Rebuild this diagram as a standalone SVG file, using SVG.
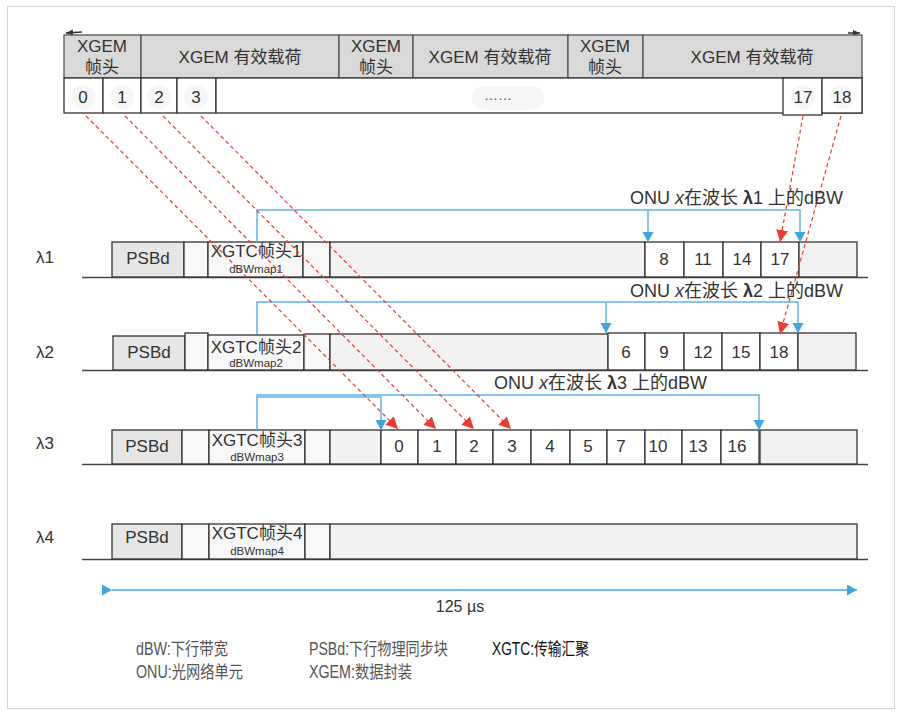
<svg xmlns="http://www.w3.org/2000/svg" width="901" height="714" viewBox="0 0 901 714">
<style>
text{font-family:"Liberation Sans","Noto Sans CJK SC",sans-serif;fill:#333}
.hd{fill:#d9d9d9;stroke:#555;stroke-width:1.3}
.c{fill:#fff;stroke:#333;stroke-width:1.3}
.g{fill:#f2f2f2;stroke:#333;stroke-width:1.3}
.p{fill:#e6e6e6;stroke:#333;stroke-width:1.3}
.s{fill:#f7f7f7;stroke:#333;stroke-width:1.3}
.bg{fill:#f6f6f6}
.t17{font-size:17px;text-anchor:middle}
.xh{font-size:17px;text-anchor:middle}
.sm{font-size:11.5px;text-anchor:middle}
.base{stroke:#444;stroke-width:1.3;fill:none}
.blue{stroke:#5fb4e6;stroke-width:1.5;fill:none}
.red{stroke:#ec3b30;stroke-width:1.2;stroke-dasharray:4 3;fill:none}
.lab{font-size:18px}
.leg{font-size:17.5px;fill:#555}
</style>
<defs>
<marker id="ab" markerUnits="userSpaceOnUse" markerWidth="12" markerHeight="12" refX="10" refY="5.5" orient="auto"><path d="M0,0 L10,5.5 L0,11 z" fill="#3ea6e2"/></marker>
<marker id="ar" markerUnits="userSpaceOnUse" markerWidth="13" markerHeight="13" refX="12" refY="6" orient="auto"><path d="M0,0 L12,6 L0,12 z" fill="#ec3b30"/></marker>
<marker id="ak" markerUnits="userSpaceOnUse" markerWidth="8" markerHeight="8" refX="7" refY="3" orient="auto"><path d="M0,0 L7,3 L0,6 z" fill="#333"/></marker>
</defs>
<rect x="0" y="0" width="901" height="714" fill="#fff"/>
<rect x="7.5" y="6.5" width="887" height="702" fill="#fff" stroke="#d4d4d4" stroke-width="1"/>

<g id="topbar">
<path d="M82,32 L66,33" stroke="#333" stroke-width="1.5" fill="none" marker-end="url(#ak)"/>
<path d="M848,33 L860,33" stroke="#333" stroke-width="1.5" fill="none" marker-end="url(#ak)"/>
<rect class="hd" x="64" y="35" width="77" height="43"/>
<rect class="hd" x="141" y="35" width="198" height="43"/>
<rect class="hd" x="339" y="35" width="74" height="43"/>
<rect class="hd" x="413" y="35" width="155" height="43"/>
<rect class="hd" x="568" y="35" width="75" height="43"/>
<rect class="hd" x="643" y="35" width="219" height="43"/>
<text class="t17" x="102" y="52">XGEM</text><text class="t17" x="102" y="73">帧头</text>
<text class="t17" x="240" y="63">XGEM 有效载荷</text>
<text class="t17" x="376" y="52">XGEM</text><text class="t17" x="376" y="73">帧头</text>
<text class="t17" x="490" y="63">XGEM 有效载荷</text>
<text class="t17" x="605" y="52">XGEM</text><text class="t17" x="605" y="73">帧头</text>
<text class="t17" x="752" y="63">XGEM 有效载荷</text>
<rect class="c" x="64" y="78" width="39" height="35"/>
<rect class="c" x="103" y="78" width="38" height="35"/>
<rect class="c" x="141" y="78" width="36" height="35"/>
<rect class="c" x="177" y="78" width="39" height="35"/>
<rect class="c" x="216" y="78" width="646" height="35"/>
<rect class="c" x="783" y="78" width="39" height="37"/>
<rect class="c" x="822" y="78" width="40" height="35"/>
<rect class="bg" x="472" y="86" width="72" height="24" rx="12"/>
<text x="498" y="100" style="font-size:14px;text-anchor:middle;fill:#555">……</text>
<g class="bg"><circle cx="83" cy="97" r="12"/><circle cx="122" cy="97" r="12"/><circle cx="159" cy="97" r="12"/><circle cx="196" cy="97" r="12"/><circle cx="803" cy="97" r="12"/><circle cx="842" cy="97" r="12"/></g>
<text class="t17" x="83" y="103">0</text><text class="t17" x="122" y="103">1</text><text class="t17" x="159" y="103">2</text><text class="t17" x="196" y="103">3</text>
<text class="t17" x="803" y="103">17</text><text class="t17" x="842" y="103">18</text>
</g>

<g id="row1">
<text x="36" y="263" style="font-size:17px">λ1</text>
<line class="base" x1="82" y1="277.5" x2="868" y2="277.5"/>
<rect class="p" x="112" y="242" width="72" height="35"/>
<rect class="s" x="184" y="242" width="24" height="35"/>
<rect class="s" x="208" y="242" width="95" height="35"/>
<rect class="s" x="303" y="242" width="27" height="35"/>
<rect class="g" x="330" y="242" width="315" height="35"/>
<rect class="c" x="645" y="242" width="39" height="35"/>
<rect class="c" x="684" y="242" width="39" height="35"/>
<rect class="c" x="723" y="242" width="38" height="35"/>
<rect class="c" x="761" y="242" width="38" height="35"/>
<rect class="g" x="799" y="242" width="58" height="35"/>
<text class="t17" x="148" y="264">PSBd</text>
<text class="xh" x="256" y="257">XGTC帧头1</text>
<text class="sm" x="256" y="273">dBWmap1</text>
<text class="t17" x="664" y="265">8</text><text class="t17" x="703" y="265">11</text><text class="t17" x="742" y="265">14</text><text class="t17" x="780" y="265">17</text>
</g>

<g id="row2">
<text x="36" y="358" style="font-size:17px">λ2</text>
<line class="base" x1="82" y1="370.5" x2="868" y2="370.5"/>
<rect class="p" x="113" y="336" width="72" height="34"/>
<rect class="s" x="185" y="333" width="23" height="37"/>
<rect class="s" x="208" y="335" width="96" height="35"/>
<rect class="s" x="304" y="334" width="26" height="36"/>
<rect class="g" x="330" y="334" width="278" height="36"/>
<rect class="c" x="608" y="333" width="37" height="37"/>
<rect class="c" x="645" y="333" width="39" height="37"/>
<rect class="c" x="684" y="333" width="38" height="37"/>
<rect class="c" x="722" y="333" width="38" height="37"/>
<rect class="c" x="760" y="333" width="38" height="37"/>
<rect class="g" x="798" y="333" width="58" height="37"/>
<text class="t17" x="149" y="358">PSBd</text>
<text class="xh" x="256" y="353">XGTC帧头2</text>
<text class="sm" x="256" y="367">dBWmap2</text>
<text class="t17" x="626" y="358">6</text><text class="t17" x="664" y="358">9</text><text class="t17" x="703" y="358">12</text><text class="t17" x="741" y="358">15</text><text class="t17" x="779" y="358">18</text>
</g>

<g id="row3">
<text x="36" y="449" style="font-size:17px">λ3</text>
<line class="base" x1="82" y1="464.5" x2="868" y2="464.5"/>
<rect class="p" x="112" y="430" width="70" height="34"/>
<rect class="s" x="182" y="430" width="27" height="34"/>
<rect class="s" x="209" y="430" width="96" height="34"/>
<rect class="s" x="305" y="430" width="25" height="34"/>
<rect class="g" x="330" y="430" width="51" height="34"/>
<rect class="c" x="381" y="430" width="37" height="34"/>
<rect class="c" x="418" y="430" width="38" height="34"/>
<rect class="c" x="456" y="430" width="37" height="34"/>
<rect class="c" x="493" y="430" width="38" height="34"/>
<rect class="c" x="531" y="430" width="39" height="34"/>
<rect class="c" x="570" y="430" width="37" height="34"/>
<rect class="c" x="607" y="430" width="38" height="34"/>
<rect class="c" x="645" y="430" width="37" height="34"/>
<rect class="c" x="682" y="430" width="39" height="34"/>
<rect class="c" x="721" y="430" width="38" height="34"/>
<rect class="g" x="760" y="430" width="97" height="34"/>
<text class="t17" x="147" y="452">PSBd</text>
<text class="xh" x="257" y="446">XGTC帧头3</text>
<text class="sm" x="257" y="461">dBWmap3</text>
<text class="t17" x="399" y="452">0</text><text class="t17" x="437" y="452">1</text><text class="t17" x="474" y="452">2</text><text class="t17" x="512" y="452">3</text><text class="t17" x="550" y="452">4</text><text class="t17" x="588" y="452">5</text><text class="t17" x="621" y="452">7</text><text class="t17" x="658" y="452">10</text><text class="t17" x="698" y="452">13</text><text class="t17" x="737" y="452">16</text>
</g>

<g id="row4">
<text x="36" y="543" style="font-size:17px">λ4</text>
<line class="base" x1="82" y1="559.5" x2="868" y2="559.5"/>
<rect class="p" x="112" y="524" width="70" height="35"/>
<rect class="s" x="182" y="524" width="27" height="35"/>
<rect class="s" x="209" y="524" width="96" height="35"/>
<rect class="s" x="305" y="524" width="25" height="35"/>
<rect class="g" x="330" y="524" width="527" height="35"/>
<text class="t17" x="147" y="543">PSBd</text>
<text class="xh" x="257" y="539">XGTC帧头4</text>
<text class="sm" x="257" y="555">dBWmap4</text>
</g>

<g id="connectors">
<path class="blue" d="M257,242 V210 H800 V242" marker-end="url(#ab)"/>
<path class="blue" d="M648,210 V242" marker-end="url(#ab)"/>
<path class="blue" d="M257,334 V302 H798 V333" marker-end="url(#ab)"/>
<path class="blue" d="M606,302 V333" marker-end="url(#ab)"/>
<path class="blue" d="M257,430 V395 H759 V430" marker-end="url(#ab)"/>
<path class="blue" d="M257,397 H381 V430" marker-end="url(#ab)"/>
<path class="blue" d="M112,590 H857" marker-start="url(#ab)" marker-end="url(#ab)" style="stroke:#3ea6e2"/>
<path class="red" d="M86,116 L398,429" marker-end="url(#ar)"/>
<path class="red" d="M125,116 L436,429" marker-end="url(#ar)"/>
<path class="red" d="M163,116 L474,429" marker-end="url(#ar)"/>
<path class="red" d="M201,116 L511,429" marker-end="url(#ar)"/>
<path class="red" d="M803,116 L780,242" marker-end="url(#ar)"/>
<path class="red" d="M841,116 L780,334" marker-end="url(#ar)"/>
</g>

<g id="labels">
<text class="lab" x="630" y="204">ONU <tspan font-style="italic">x</tspan>在波长 <tspan font-weight="bold">λ</tspan>1 上的dBW</text>
<text class="lab" x="630" y="297">ONU <tspan font-style="italic">x</tspan>在波长 <tspan font-weight="bold">λ</tspan>2 上的dBW</text>
<text class="lab" x="494" y="389">ONU <tspan font-style="italic">x</tspan>在波长 <tspan font-weight="bold">λ</tspan>3 上的dBW</text>
<text x="460" y="612" style="font-size:16px;text-anchor:middle">125 µs</text>
</g>

<g id="legend">
<text class="leg" x="136" y="655" textLength="92" lengthAdjust="spacingAndGlyphs">dBW:下行带宽</text>
<text class="leg" x="136" y="678" textLength="107" lengthAdjust="spacingAndGlyphs">ONU:光网络单元</text>
<text class="leg" x="309" y="655" textLength="139" lengthAdjust="spacingAndGlyphs">PSBd:下行物理同步块</text>
<text class="leg" x="309" y="678" textLength="103" lengthAdjust="spacingAndGlyphs">XGEM:数据封装</text>
<text class="leg" x="492" y="655" textLength="97" lengthAdjust="spacingAndGlyphs" style="fill:#111">XGTC:传输汇聚</text>
</g>
</svg>
